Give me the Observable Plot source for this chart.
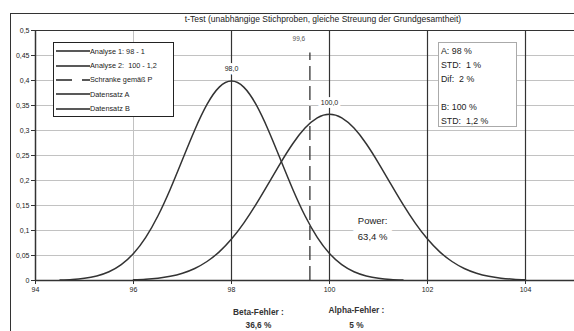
<!DOCTYPE html>
<html>
<head>
<meta charset="utf-8">
<script src="https://cdn.jsdelivr.net/npm/d3@7"></script>
<script src="https://cdn.jsdelivr.net/npm/@observablehq/plot@0.6"></script>
<style>
  html, body { margin: 0; padding: 0; background: #fff; overflow: hidden; }
  #wrap { position: relative; width: 574px; height: 331px; font-family: "Liberation Sans", Arial, sans-serif; color: #222; }
  #wrap > svg.chart { position: absolute; left: 0; top: 0; }
  #frame { position: absolute; left: 10px; top: 13px; width: 580px; height: 340px; border: 1.5px solid #333; box-sizing: border-box; pointer-events: none; }
  #title { position: absolute; left: 0; width: 646px; top: 14px; text-align: center; font-size: 8.5px; color: #222; white-space: nowrap; }
  #legend { position: absolute; left: 53px; top: 42px; width: 121px; height: 75px; border: 1.5px solid #222; background: #fff; box-sizing: border-box; padding-top: 1px; }
  .row { display: flex; align-items: center; height: 14.4px; font-size: 7.3px; white-space: pre; }
  .row svg { display: block; margin-left: 2px; }
  #info { position: absolute; left: 438px; top: 42px; width: 79px; height: 85px; border: 1px solid #aaa; background: #fff; box-sizing: border-box; padding: 2px 0 0 2px; font-size: 8.8px; line-height: 13.9px; white-space: pre; }
</style>
</head>
<body>
<div id="wrap"></div>
<script>
// ---- data ----
const titleText = "t-Test (unabhängige Stichproben, gleiche Streuung der Grundgesamtheit)";
const xA = [94.5,94.75,95,95.25,95.5,95.75,96,96.25,96.5,96.75,97,97.25,97.5,97.75,98,98.25,98.5,98.75,99,99.25,99.5,99.75,100,100.25,100.5,100.75,101,101.25,101.5];
const yA = [0.0009,0.0020,0.0044,0.0091,0.0175,0.0317,0.0540,0.0863,0.1295,0.1826,0.2420,0.3011,0.3521,0.3867,0.3989,0.3867,0.3521,0.3011,0.2420,0.1826,0.1295,0.0863,0.0540,0.0317,0.0175,0.0091,0.0044,0.0020,0.0009];
const xB = [96,96.25,96.5,96.75,97,97.25,97.5,97.75,98,98.25,98.5,98.75,99,99.25,99.5,99.75,100,100.25,100.5,100.75,101,101.25,101.5,101.75,102,102.25,102.5,102.75,103,103.25,103.5,103.75,104];
const yB = [0.0013,0.0025,0.0047,0.0085,0.0146,0.0241,0.0380,0.0573,0.0829,0.1148,0.1522,0.1932,0.2349,0.2735,0.3048,0.3253,0.3325,0.3253,0.3048,0.2735,0.2349,0.1932,0.1522,0.1148,0.0829,0.0573,0.0380,0.0241,0.0146,0.0085,0.0047,0.0025,0.0013];
const means = [98, 100];
const peaks = [0.3989, 0.3325];
const meanLabels = ["98,0", "100,0"];
const threshold = [99.6];
const thresholdLabel = ["99,6"];
const xTicks = [94, 96, 98, 100, 102, 104];
const yTicks = [0, 0.05, 0.1, 0.15, 0.2, 0.25, 0.3, 0.35, 0.4, 0.45, 0.5];
const lightGridX = [96];
const darkGridX = [102, 104];
const legendLabels = ["Analyse 1: 98 - 1", "Analyse 2:  100 - 1,2", "Schranke gemäß P", "Datensatz A", "Datensatz B"];
const legendDashed = [false, false, true, false, false];
const infoLines = ["A: 98 %", "STD:  1 %", "Dif:  2 %", "", "B: 100 %", "STD:  1,2 %"];
const betaText = ["Beta-Fehler :", "36,6 %"];
const alphaText = ["Alpha-Fehler :", "5 %"];
const powerText = ["Power:", "63,4 %"];

// ---- build ----
const fmt = d => String(d).replace(".", ",");
const curveA = xA.map((x, i) => ({x, y: yA[i]}));
const curveB = xB.map((x, i) => ({x, y: yB[i]}));
const meanData = means.map((m, i) => ({x: m, y: peaks[i], label: meanLabels[i]}));
const ink = "#333";

const chart = Plot.plot({
  width: 574,
  height: 331,
  marginTop: 30,
  marginBottom: 51,
  marginLeft: 35,
  marginRight: 0,
  x: {domain: [94, 105]},
  y: {domain: [0, 0.5]},
  style: {fontFamily: "Liberation Sans, Arial, sans-serif", color: "#222", background: "transparent"},
  marks: [
    Plot.ruleY(yTicks.filter(t => t > 0 && t < 0.5), {stroke: "#c2c2c2", strokeWidth: 1}),
    Plot.ruleX(lightGridX, {stroke: "#c2c2c2", strokeWidth: 1}),
    Plot.ruleX(darkGridX, {stroke: ink, strokeWidth: 1.2}),
    Plot.ruleY([0.5], {stroke: ink, strokeWidth: 1.2}),
    Plot.ruleX(means, {y1: 0, y2: 0.5, stroke: ink, strokeWidth: 1.2}),
    Plot.ruleX(threshold, {y1: 0, y2: 0.455, stroke: ink, strokeWidth: 1.3, strokeDasharray: "14,6"}),
    Plot.lineY(curveA, {x: "x", y: "y", stroke: ink, strokeWidth: 1.5, curve: "natural"}),
    Plot.lineY(curveB, {x: "x", y: "y", stroke: ink, strokeWidth: 1.5, curve: "natural"}),
    Plot.ruleX([94], {stroke: ink, strokeWidth: 1.5}),
    Plot.ruleY([0], {stroke: ink, strokeWidth: 1.5}),
    Plot.axisX({ticks: xTicks, tickSize: 4, tickPadding: 3, fontSize: 7, tickFormat: fmt, stroke: ink, label: null}),
    Plot.axisY({ticks: yTicks, tickSize: 4, tickPadding: 2, fontSize: 7, tickFormat: fmt, stroke: ink, label: null}),
    Plot.text(meanData, {x: "x", y: "y", text: "label", dy: -12, fontSize: 7, fill: "#222", stroke: "white", strokeWidth: 6, paintOrder: "stroke"}),
    Plot.text(thresholdLabel, {x: threshold[0], y: 0.5, text: d => d, dx: -11, dy: 8, fontSize: 6.5, fill: "#555", stroke: "white", strokeWidth: 8, paintOrder: "stroke"}),
    Plot.text([powerText.join("\n")], {x: 100.88, y: 0.108, text: d => d, fontSize: 9.5, fill: "#222", stroke: "white", strokeWidth: 14, paintOrder: "stroke", lineHeight: 1.7}),
    Plot.text([betaText.join("\n")], {x: 98.55, y: 0, text: d => d, dy: 36.5, fontSize: 8.3, fontWeight: "bold", fill: "#333", lineHeight: 1.6}),
    Plot.text([alphaText.join("\n")], {x: 100.55, y: 0, text: d => d, dy: 35.5, fontSize: 8.3, fontWeight: "bold", fill: "#333", lineHeight: 1.8})
  ]
});
chart.classList.add("chart");

const wrap = document.getElementById("wrap");
wrap.appendChild(chart);

const frame = document.createElement("div"); frame.id = "frame"; wrap.appendChild(frame);
const title = document.createElement("div"); title.id = "title"; title.textContent = titleText; wrap.appendChild(title);

const legend = document.createElement("div"); legend.id = "legend";
legendLabels.forEach((lab, i) => {
  const row = document.createElement("div"); row.className = "row";
  const ns = "http://www.w3.org/2000/svg";
  const s = document.createElementNS(ns, "svg");
  s.setAttribute("width", 34); s.setAttribute("height", 6);
  const l = document.createElementNS(ns, "line");
  l.setAttribute("x1", 0); l.setAttribute("x2", 34); l.setAttribute("y1", 3); l.setAttribute("y2", 3);
  l.setAttribute("stroke", "#222"); l.setAttribute("stroke-width", 1.3);
  if (legendDashed[i]) l.setAttribute("stroke-dasharray", "16,10");
  s.appendChild(l); row.appendChild(s);
  const t = document.createElement("span"); t.textContent = lab; row.appendChild(t);
  legend.appendChild(row);
});
wrap.appendChild(legend);

const info = document.createElement("div"); info.id = "info";
info.textContent = infoLines.join("\n");
wrap.appendChild(info);
</script>
</body>
</html>
